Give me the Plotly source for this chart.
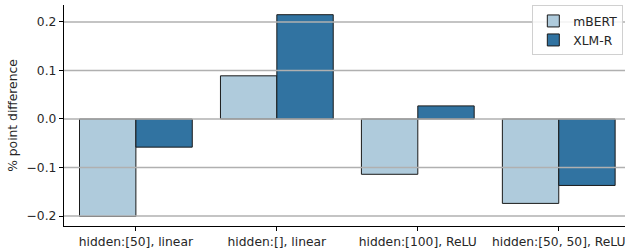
import plotly.graph_objects as go

categories = ["hidden:[50], linear", "hidden:[], linear", "hidden:[100], ReLU", "hidden:[50, 50], ReLU"]
mbert = [-0.201, 0.089, -0.114, -0.174]
xlmr = [-0.058, 0.215, 0.027, -0.137]
y_ticks = [-0.2, -0.1, 0.0, 0.1, 0.2]
y_ticklabels = ["−0.2", "−0.1", "0.0", "0.1", "0.2"]

font = "DejaVu Sans"
fs = 12.3
fig = go.Figure()
fig.add_trace(go.Bar(x=categories, y=mbert, name="mBERT",
                     marker=dict(color="#afcbdc", line=dict(color="#1a1a1a", width=1))))
fig.add_trace(go.Bar(x=categories, y=xlmr, name="XLM-R",
                     marker=dict(color="#3173a1", line=dict(color="#1a1a1a", width=1))))

for v in y_ticks:
    fig.add_shape(type="line", xref="paper", x0=0, x1=1, yref="y", y0=v, y1=v,
                  line=dict(color="#b0b0b0", width=1.6), layer="above")

fig.update_layout(
    width=625, height=251,
    margin=dict(l=64, r=0, t=5, b=25, autoexpand=False),
    plot_bgcolor="white", paper_bgcolor="white",
    barmode="group", bargap=0.2, bargroupgap=0,
    font=dict(family=font, size=fs, color="#262626"),
    legend=dict(x=0.997, y=0.998, xanchor="right", yanchor="top",
                bgcolor="rgba(255,255,255,0.85)", bordercolor="#d0d0d0", borderwidth=1,
                font=dict(size=fs), itemwidth=30, tracegroupgap=0),
    xaxis=dict(range=[-0.51, 3.47], showgrid=False, showline=True, linecolor="black",
               linewidth=1.3, ticks="outside", ticklen=4, tickcolor="black",
               tickfont=dict(size=fs), automargin=False),
    yaxis=dict(range=[-0.2206, 0.235], tickvals=y_ticks, ticktext=y_ticklabels,
               showgrid=False, zeroline=False, showline=True, linecolor="black",
               linewidth=1.3, ticks="outside", ticklen=4, tickcolor="black",
               title=dict(text="% point difference", font=dict(size=fs), standoff=6),
               tickfont=dict(size=fs), automargin=False),
)
fig.write_html("out.html", config={"displayModeBar": False},
               post_script="document.body.style.margin='0';document.body.style.overflow='hidden';")
